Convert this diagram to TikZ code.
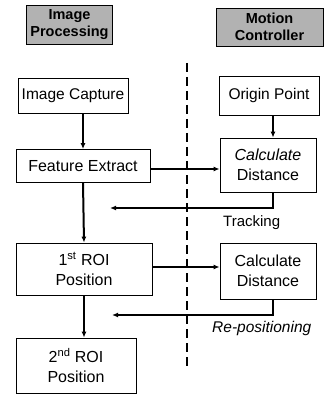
\documentclass[tikz,border=0pt]{standalone}
\usepackage{fontspec}
\setmainfont{Liberation Sans}
\usetikzlibrary{arrows.meta}
\begin{document}
\begin{tikzpicture}[x=1pt,y=-1pt,
  box/.style={draw=black, line width=0.8pt, fill=white, align=center, inner sep=0pt, font=\fontsize{16}{20}\selectfont},
  hdr/.style={draw=black, line width=0.8pt, fill=black!30, align=center, inner sep=0pt, font=\bfseries\fontsize{14.5}{17}\selectfont},
  arr/.style={line width=2pt, -{Latex[length=6pt,width=5pt]}},
  lbl/.style={inner sep=0pt}]
\useasboundingbox (0,0) rectangle (325,395);
\node[hdr, minimum width=86pt, minimum height=39pt] (hdr1) at (69.5,24.5) {Image\\Processing};
\node[hdr, minimum width=107pt, minimum height=38pt] (hdr2) at (269.5,27) {Motion\\Controller};
\node[box, minimum width=110pt, minimum height=35pt, font=\fontsize{15.5}{18}\selectfont] (cap) at (73,95.5) {Image Capture};
\node[box, minimum width=100pt, minimum height=39pt, font=\fontsize{15.5}{18}\selectfont] (origin) at (269,95.5) {Origin Point};
\node[box, minimum width=134pt, minimum height=33pt] (feat) at (83,166) {Feature Extract};
\node[box, minimum width=96pt, minimum height=54pt] (cd1) at (268,165) {\textit{Calculate}\\Distance};
\node[box, minimum width=136pt, minimum height=52pt] (roi1) at (84,269) {1\textsuperscript{st} ROI\\Position};
\node[box, minimum width=96pt, minimum height=56pt] (cd2) at (268,271) {Calculate\\Distance};
\node[box, minimum width=120pt, minimum height=55pt] (roi2) at (76,365.5) {2\textsuperscript{nd} ROI\\Position};
\coordinate (d1) at (187,63);
\coordinate (d2) at (187,370);
\draw[line width=1.4pt, dash pattern=on 9pt off 5pt] (d1) -- (d2);
\coordinate (t1) at (110,208);
\coordinate (t2) at (112,315);
\node[lbl, anchor=west, font=\fontsize{15}{17}\selectfont] (trk) at (223,223) {Tracking};
\node[lbl, anchor=west, font=\itshape\fontsize{15.5}{18}\selectfont] (rep) at (212,328) {Re-positioning};
\draw[arr] (feat.north |- cap.south) -- (feat.north);
\draw[arr] (feat.south) -- (roi1.north);
\draw[arr] (roi1.south) -- (roi1.south |- roi2.north);
\draw[arr] ([xshift=4pt]origin.south) -- ([xshift=5pt]cd1.north);
\draw[arr] ([yshift=-3pt]feat.east) -- ([yshift=-3pt]feat.east -| cd1.west);
\draw[arr] ([yshift=2pt]roi1.east) -- ([yshift=2pt]roi1.east -| cd2.west);
\draw[arr] ([xshift=5pt]cd1.south) |- (t1);
\draw[arr] ([xshift=5pt]cd2.south) |- (t2);
\end{tikzpicture}
\end{document}
